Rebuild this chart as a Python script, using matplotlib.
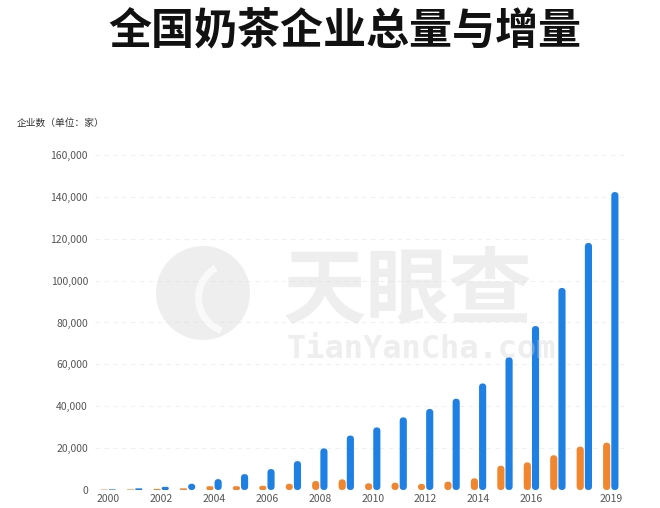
import matplotlib
matplotlib.use("Agg")
import matplotlib.pyplot as plt
from matplotlib.patches import FancyBboxPatch, Circle, Wedge
from matplotlib.transforms import IdentityTransform
from matplotlib.ticker import FuncFormatter

plt.rcParams["font.family"] = ["Noto Sans CJK SC", "DejaVu Sans"]

years = list(range(2000, 2020))
total = [300, 800, 1500, 3000, 5200, 7600, 10000, 13800, 19900, 26000,
         29900, 34700, 38700, 43600, 50900, 63400, 78300, 96500, 118000, 142300]
added = [200, 300, 500, 800, 1800, 1800, 2000, 3000, 4300, 5100,
         3200, 3500, 2900, 4000, 5600, 11600, 13200, 16600, 20700, 22600]
tick_years = [2000, 2002, 2004, 2006, 2008, 2010, 2012, 2014, 2016, 2019]
yticks = [0, 20000, 40000, 60000, 80000, 100000, 120000, 140000, 160000]

title = "全国奶茶企业总量与增量"
ylabel = "企业数（单位：家）"

blue = "#1f80e4"
orange = "#f0862e"
W, H = 660, 508

fig = plt.figure(figsize=(W / 100, H / 100), dpi=100)
ax = fig.add_axes([95 / W, 18 / H, 529 / W, 335 / H])

idx = list(range(len(years)))
bw = 0.27
off = 0.155
bars_o = ax.bar([i - off for i in idx], added, width=bw, color=orange)
bars_b = ax.bar([i + off for i in idx], total, width=bw, color=blue)

ax.set_xlim(-0.5, len(years) - 0.5)
ax.set_ylim(0, 160000)
ax.set_yticks(yticks)
ax.yaxis.set_major_formatter(FuncFormatter(lambda v, p: f"{int(v):,}"))
ax.set_xticks([years.index(y) for y in tick_years])
ax.set_xticklabels([str(y) for y in tick_years])
ax.tick_params(axis="both", length=0, labelsize=7.5, colors="#555555")
ax.tick_params(axis="y", pad=5)
ax.tick_params(axis="x", pad=3)
for s in ax.spines.values():
    s.set_visible(False)
ax.yaxis.grid(True, color="#f0f0f0", linewidth=0.8, linestyle=(0, (4, 4)))
ax.set_axisbelow(True)

# rounded bar ends
bbox = ax.get_window_extent()
px_x = bbox.width / (len(years))
px_y = bbox.height / 160000
asp = px_x / px_y
for bars in (bars_o, bars_b):
    for p in bars:
        x, w, h = p.get_x(), p.get_width(), p.get_height()
        r = min(w / 2, h / asp / 2)
        fp = FancyBboxPatch((x, 0), w, h,
                            boxstyle=f"round,pad=0,rounding_size={r}",
                            mutation_aspect=asp, facecolor=p.get_facecolor(),
                            edgecolor="none")
        ax.add_patch(fp)
        p.remove()

fig.text(345 / W, 1 - 31 / H, title, ha="center", va="center",
         fontsize=31, fontweight="bold", color="#111111")
fig.text(17 / W, 1 - 123 / H, ylabel, ha="left", va="center",
         fontsize=7, color="#333333")

# watermark (logo + text), drawn in pixel space
wm = "#d4d4d4"
cx, cy = 203, H - 293
fig.patches.append(Circle((cx, cy), 47, transform=IdentityTransform(),
                          facecolor=wm, alpha=0.38, edgecolor="none", zorder=5))
fig.patches.append(Wedge((cx + 30, cy - 5), 38, 120, 250, width=7,
                         transform=IdentityTransform(), facecolor="white",
                         alpha=0.7, edgecolor="none", zorder=6))
fig.text(408 / W, 1 - 292 / H, "天眼查", ha="center", va="center",
         fontsize=60, fontweight="bold", color=wm, alpha=0.38, zorder=5)
fig.text(421 / W, 1 - 350 / H, "TianYanCha.com", ha="center", va="center",
         fontsize=23, fontweight="bold", color=wm, alpha=0.38, zorder=5,
         family="DejaVu Sans Mono")

fig.savefig("out.png", dpi=100)
